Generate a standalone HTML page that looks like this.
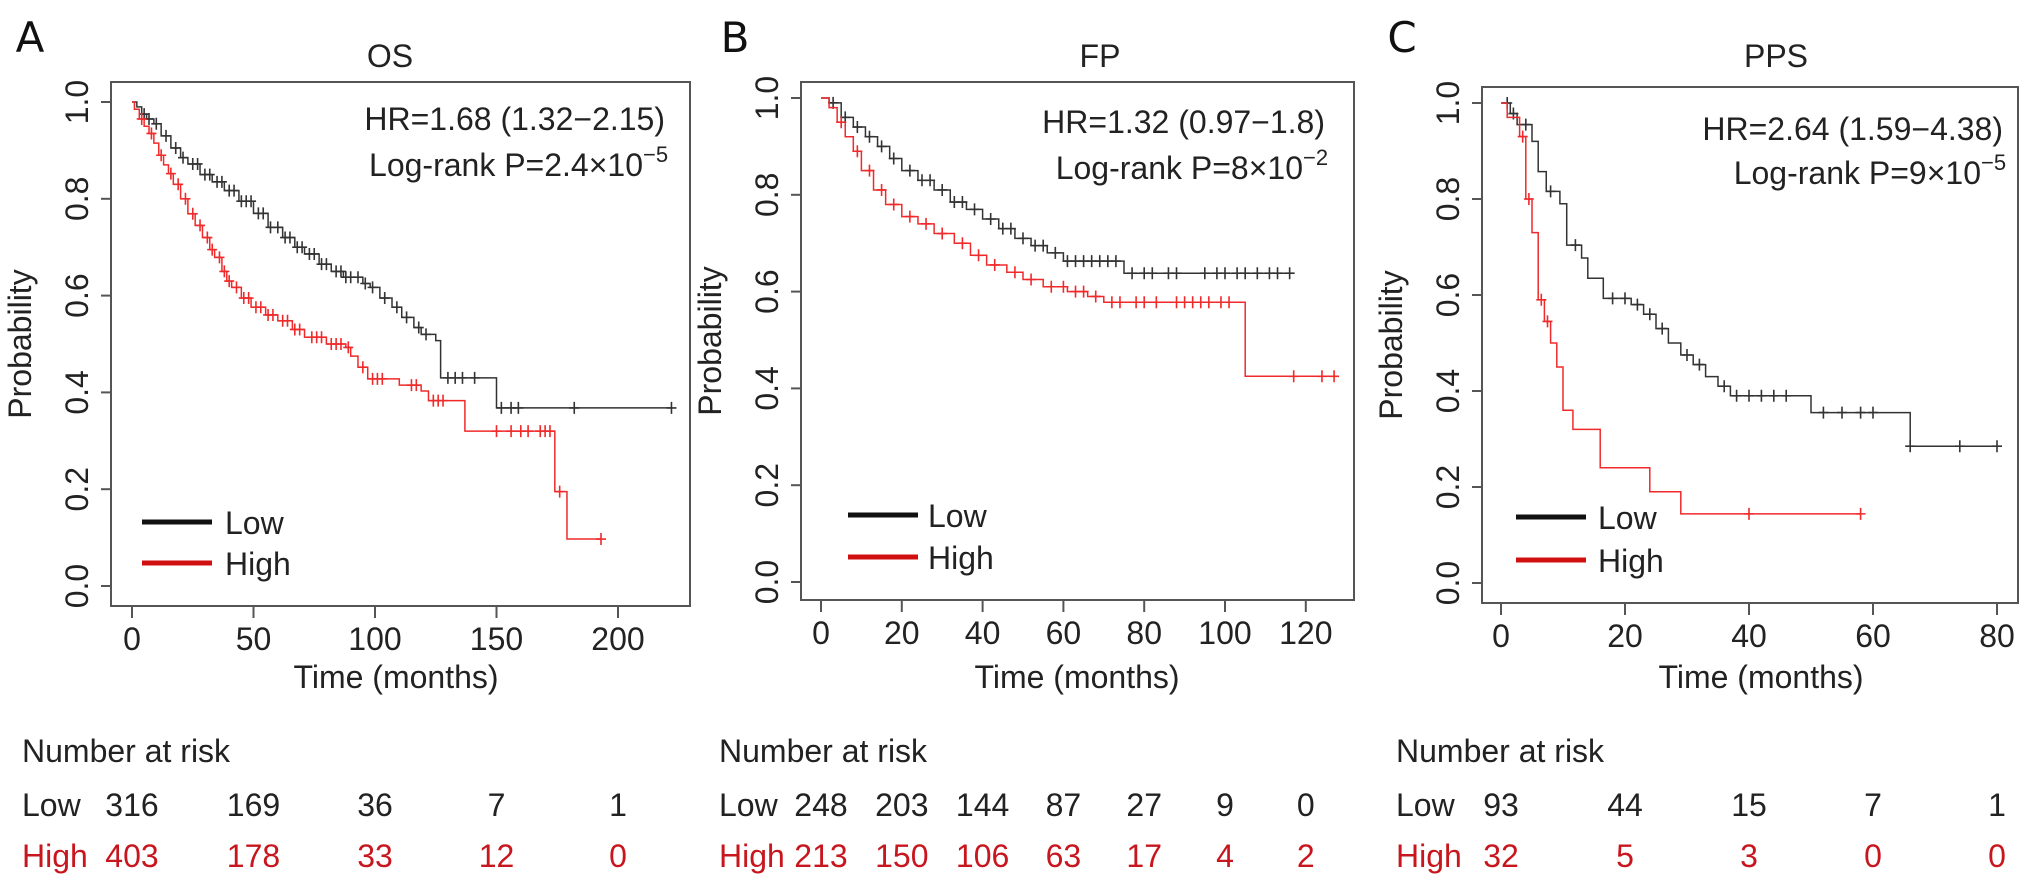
<!DOCTYPE html>
<html><head><meta charset="utf-8"><style>
html,body{margin:0;padding:0;background:#fff;}
svg{display:block;font-family:"Liberation Sans",sans-serif;}
</style></head><body>
<svg id="fig" width="2031" height="887" viewBox="0 0 2031 887" xmlns="http://www.w3.org/2000/svg"></svg>
<script>
// ---- Panel A (OS) data ----
const aXTicks = [0, 50, 100, 150, 200];
const aLowT = [2,4,6,9,12,16,20,23,28,33,38,44,50,56,62,67,71,77,82,87,95,98,102,107,111,116,119,125,127,150];
const aLowS = [0.99,0.975,0.965,0.955,0.93,0.905,0.885,0.872,0.85,0.835,0.817,0.795,0.77,0.741,0.72,0.70,0.686,0.665,0.65,0.638,0.625,0.617,0.595,0.576,0.555,0.534,0.52,0.507,0.43,0.368];
const aLowEnd = 222;
const aLowCens = [5,7,10,14,18,21,25,27,30,32,35,37,40,42,45,47,49,52,54,57,60,63,65,68,70,73,75,78,80,84,86,88,90,93,96,99,104,109,113,118,121,130,133,136,141,152,156,159,182,222];
const aHighT = [1,3,5,7,9,11,13,15,17,20,23,26,29,32,34,37,39,41,45,49,55,60,66,71,80,88,90,93,97,110,119,122,137,174,179];
const aHighS = [0.985,0.965,0.95,0.935,0.915,0.89,0.87,0.852,0.83,0.8,0.769,0.745,0.72,0.695,0.679,0.65,0.63,0.617,0.595,0.576,0.56,0.548,0.53,0.514,0.50,0.493,0.475,0.452,0.428,0.415,0.403,0.383,0.32,0.195,0.097];
const aHighEnd = 193;
const aHighCens = [4,8,12,16,19,22,25,28,31,33,36,38,40,43,46,48,51,53,56,58,62,64,67,69,74,76,78,82,84,86,89,95,99,101,103,115,117,124,126,128,150,156,160,163,168,170,172,176,193];
const aRiskLow = [316,169,36,7,1];
const aRiskHigh = [403,178,33,12,0];

// ---- Panel B (FP) data ----
const bXTicks = [0,20,40,60,80,100,120];
const bLowT = [2,5,8,11,14,17,20,24,28,32,36,40,44,48,52,56,60,75];
const bLowS = [0.99,0.96,0.94,0.92,0.9,0.875,0.85,0.83,0.81,0.785,0.77,0.75,0.73,0.71,0.695,0.68,0.663,0.638];
const bLowEnd = 116;
const bLowCens = [3,6,9,12,15,18,22,25,27,30,33,35,38,42,45,47,50,53,55,58,61,63,65,67,69,71,73,77,80,82,86,88,95,98,100,103,105,108,111,113,116];
const bHighT = [2,4,6,8,10,13,16,20,24,28,33,37,41,46,50,55,61,66,70,105];
const bHighS = [0.98,0.95,0.92,0.89,0.85,0.81,0.78,0.755,0.74,0.72,0.70,0.675,0.655,0.64,0.625,0.61,0.60,0.59,0.578,0.425];
const bHighEnd = 127;
const bHighCens = [5,9,12,15,18,22,26,30,35,39,43,48,52,57,60,63,65,68,72,74,78,80,83,88,90,92,94,96,99,101,117,124,127];
const bRiskLow = [248,203,144,87,27,9,0];
const bRiskHigh = [213,150,106,63,17,4,2];

// ---- Panel C (PPS) data ----
const cXTicks = [0,20,40,60,80];
const cLowT = [1.5,2.6,5,6,7.3,9.5,10.6,13,14,16.5,21,23,25,27,29,31,33,35,37,50,66];
const cLowS = [0.978,0.955,0.92,0.857,0.816,0.79,0.704,0.677,0.635,0.593,0.58,0.56,0.53,0.5,0.475,0.455,0.43,0.41,0.39,0.355,0.285];
const cLowEnd = 80;
const cLowCens = [1,2,4,8,12,18,20,22,24,26,30,32,36,38,40,42,44,46,52,55,58,60,66,74,80];
const cHighT = [1,3,4,5,6,7,8,9,10,11.6,16,24,29];
const cHighS = [0.97,0.93,0.80,0.73,0.59,0.545,0.50,0.45,0.36,0.32,0.24,0.19,0.144];
const cHighEnd = 58;
const cHighCens = [3.5,4.5,6.5,7.5,40,58];
const cRiskLow = [93,44,15,7,1];
const cRiskHigh = [32,5,3,0,0];

const yTicks = [0.0,0.2,0.4,0.6,0.8,1.0];

const NS = "http://www.w3.org/2000/svg";
const svg = document.getElementById("fig");
function mk(tag, attrs, parent){
  const e = document.createElementNS(NS, tag);
  for (const k in attrs) e.setAttribute(k, attrs[k]);
  (parent||svg).appendChild(e);
  return e;
}
function txt(s, attrs, parent){ const e = mk("text", attrs, parent); e.textContent = s; return e; }

const FS = 32;
const panels = [
 {id:"a", letter:"A", letterX:30, title:"OS", titleX:390, box:[111,82,690,606], y1:102, y0:586, x0:132, ppm:2.43,
  ticks:aXTicks, lowT:aLowT, lowS:aLowS, lowEnd:aLowEnd, lowC:aLowCens, highT:aHighT, highS:aHighS, highEnd:aHighEnd, highC:aHighCens,
  hr:"HR=1.68 (1.32\u22122.15)", p:"Log-rank P=2.4\u00d710", pexp:"\u22125", statRight:665, statY:[130,176],
  leg:[142,212,225,522,563], timeX:396, riskX:22, riskL:aRiskLow, riskH:aRiskHigh},
 {id:"b", letter:"B", letterX:735, title:"FP", titleX:1100, box:[801,82,1354,600], y1:98, y0:582, x0:821, ppm:4.04,
  ticks:bXTicks, lowT:bLowT, lowS:bLowS, lowEnd:bLowEnd, lowC:bLowCens, highT:bHighT, highS:bHighS, highEnd:bHighEnd, highC:bHighCens,
  hr:"HR=1.32 (0.97\u22121.8)", p:"Log-rank P=8\u00d710", pexp:"\u22122", statRight:1325, statY:[133,179],
  leg:[848,918,928,515,557], timeX:1077, riskX:719, riskL:bRiskLow, riskH:bRiskHigh},
 {id:"c", letter:"C", letterX:1402, title:"PPS", titleX:1776, box:[1482,87,2018,603], y1:103, y0:583, x0:1501, ppm:6.2,
  ticks:cXTicks, lowT:cLowT, lowS:cLowS, lowEnd:cLowEnd, lowC:cLowCens, highT:cHighT, highS:cHighS, highEnd:cHighEnd, highC:cHighCens,
  hr:"HR=2.64 (1.59\u22124.38)", p:"Log-rank P=9\u00d710", pexp:"\u22125", statRight:2003, statY:[140,184],
  leg:[1516,1586,1598,517,560], timeX:1761, riskX:1396, riskL:cRiskLow, riskH:cRiskHigh}
];

function survAt(T, S, t){
  let s = 1;
  for (let i=0;i<T.length;i++){ if (T[i] <= t) s = S[i]; }
  return s;
}

panels.forEach(P => {
  const g = mk("g", {});
  
  
  const X = t => P.x0 + t*P.ppm;
  const Y = v => P.y0 - v*(P.y0-P.y1);

  const lt = txt(P.letter, {x:P.letterX, y:52, "font-size":42, "text-anchor":"middle", fill:"#111", "font-family":"DejaVu Sans, sans-serif"}, g);
  
  
  const ti = txt(P.title, {x:P.titleX, y:67, "font-size":FS, "text-anchor":"middle", fill:"#222"}, g);
  
  

  const [bl,bt,br,bb] = P.box;
  const box = mk("rect", {x:bl, y:bt, width:br-bl, height:bb-bt, fill:"none", stroke:"#555", "stroke-width":2}, g);
  
  

  yTicks.forEach(v => {
    const tk = mk("line", {x1:bl-10, x2:bl, y1:Y(v), y2:Y(v), stroke:"#555", "stroke-width":2}, g);
    
    
    const lx = bl-23, ly = Y(v);
    const lb = txt(v.toFixed(1), {x:lx, y:ly, "font-size":FS, "text-anchor":"middle", fill:"#222", transform:`rotate(-90 ${lx} ${ly})`}, g);
    
    
  });
  const yt = txt("Probability", {x:bl-80, y:(bt+bb)/2, "font-size":FS, "text-anchor":"middle", fill:"#222", transform:`rotate(-90 ${bl-80} ${(bt+bb)/2})`}, g);
  
  

  P.ticks.forEach(t => {
    const tk = mk("line", {x1:X(t), x2:X(t), y1:bb, y2:bb+12, stroke:"#555", "stroke-width":2}, g);
    
    
    const lb = txt(String(t), {x:X(t), y:bb+44, "font-size":FS, "text-anchor":"middle", fill:"#222"}, g);
    
    
  });
  const xt = txt("Time (months)", {x:P.timeX, y:688, "font-size":FS, "text-anchor":"middle", fill:"#222"}, g);
  
  

  function curve(T, S, end, C, color, name){
    let d = `M${X(0)},${Y(1)}`;
    for (let i=0;i<T.length;i++){ d += ` H${X(T[i])} V${Y(S[i])}`; }
    d += ` H${X(end)}`;
    const p = mk("path", {d:d, fill:"none", stroke:color, "stroke-width":1.5}, g);
    
    
    C.forEach(t => {
      const v = survAt(T, S, t);
      const cx = X(t), cy = Y(v);
      const m = mk("path", {d:`M${cx},${cy-6} V${cy+6} M${cx-5},${cy} H${cx+5}`, stroke:color, "stroke-width":1.6, fill:"none"}, g);
      
      
    });
  }
  curve(P.lowT, P.lowS, P.lowEnd, P.lowC, "#333", "low");
  curve(P.highT, P.highS, P.highEnd, P.highC, "#f02a2a", "high");

  const s1 = txt(P.hr, {x:P.statRight, y:P.statY[0], "font-size":FS, "text-anchor":"end", fill:"#222"}, g);
  
  
  const s2 = mk("text", {x:P.statRight-22, y:P.statY[1], "font-size":FS, "text-anchor":"end", fill:"#222"}, g);
  s2.textContent = P.p;
  
  
  const s3 = txt(P.pexp, {x:P.statRight-22, y:P.statY[1]-14, "font-size":22, "text-anchor":"start", fill:"#222"}, g);
  
  

  const [lx1,lx2,ltx,ly1,ly2] = P.leg;
  const l1 = mk("line", {x1:lx1, x2:lx2, y1:ly1, y2:ly1, stroke:"#111", "stroke-width":5}, g);
  
  
  const t1 = txt("Low", {x:ltx, y:ly1+12, "font-size":FS, fill:"#222"}, g);
  
  
  const l2 = mk("line", {x1:lx1, x2:lx2, y1:ly2, y2:ly2, stroke:"#d01010", "stroke-width":5}, g);
  
  
  const t2 = txt("High", {x:ltx, y:ly2+12, "font-size":FS, fill:"#222"}, g);
  
  

  const rh = txt("Number at risk", {x:P.riskX, y:762, "font-size":FS, fill:"#222"}, g);
  
  
  const rl = txt("Low", {x:P.riskX, y:816, "font-size":FS, fill:"#222"}, g);
  
  
  const rhh = txt("High", {x:P.riskX, y:867, "font-size":FS, fill:"#c8161e"}, g);
  
  
  P.ticks.forEach((t,i) => {
    const a = txt(String(P.riskL[i]), {x:X(t), y:816, "font-size":FS, "text-anchor":"middle", fill:"#222"}, g);
    
    
    const b = txt(String(P.riskH[i]), {x:X(t), y:867, "font-size":FS, "text-anchor":"middle", fill:"#c8161e"}, g);
    
    
  });
});
</script>
</body></html>
